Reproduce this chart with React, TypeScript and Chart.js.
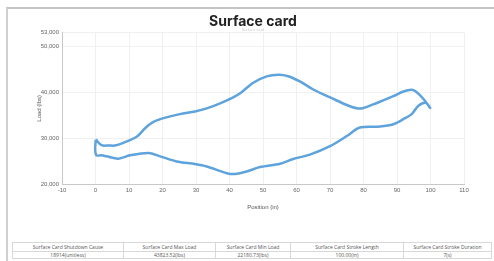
import React, { useEffect, useRef } from "react";
import { Chart, registerables } from "chart.js";

Chart.register(...registerables);

const positions = [
  0.1, 1.8, 4, 5.8, 8.3, 12.3, 14.8, 17.3, 20.3, 25.2, 29.7, 33.2, 37.2, 41.1, 43.6, 47.1, 51.1, 54.6, 57.5, 61,
  65, 71, 75, 78, 80, 84, 88.9, 91.9, 94.4, 95.9, 97.9, 99.9, 98.6, 96.4, 94.4, 91.9, 88.9, 84.9, 78.9, 75,
  70, 64, 59, 55.1, 49.1, 45.1, 41.6, 39.2, 33.2, 29.7, 24.2, 19.3, 15.8, 10.3, 6.8, 3.3, 1.8, 0.3, -0.1, 0.1,
];
const loads = [
  29700, 28450, 28400, 28390, 28980, 30300, 32140, 33530, 34350, 35230, 35820, 36480, 37590, 38900, 40020, 42080, 43470, 43820, 43500, 42360,
  40600, 38540, 37220, 36490, 36560, 37660, 39140, 40150, 40530, 40020, 38540, 36560, 37700, 37060, 35230, 34130, 33020, 32520, 32300, 30450,
  28240, 26400, 25450, 24420, 23690, 22720, 22180, 22360, 23820, 24350, 24920, 26030, 26780, 26250, 25520, 26030, 26250, 26250, 27500, 29700,
];
const yTicks = [20000, 30000, 40000, 50000, 53000];

const tableHeaders = [
  "Surface Card Shutdown Cause",
  "Surface Card Max Load",
  "Surface Card Min Load",
  "Surface Card Stroke Length",
  "Surface Card Stroke Duration",
];
const tableValues = ["18914(unitless)", "43823.52(lbs)", "22180.73(lbs)", "100.00(in)", "7(s)"];
const colWidths = [111, 92, 75, 113, 88];

export default function App() {
  const ref = useRef<HTMLCanvasElement | null>(null);
  useEffect(() => {
    if (!ref.current) return;
    const data = positions.map((x, i) => ({ x, y: loads[i] }));
    const tickFont = { family: "'Liberation Sans', Arial, sans-serif", size: 6 };
    const chart = new Chart(ref.current, {
      type: "line",
      data: {
        datasets: [
          {
            data,
            borderColor: "#5ea3dc",
            backgroundColor: "#5ea3dc",
            borderWidth: 2.5,
            pointRadius: 0,
            tension: 0.3,
            fill: false,
          },
        ],
      },
      options: {
        animation: false,
        responsive: true,
        maintainAspectRatio: false,
        layout: { padding: 0 },
        plugins: {
          legend: { display: false },
          tooltip: { enabled: false },
          title: {
            display: true,
            text: "Surface card",
            color: "#222",
            font: { family: "Inter, sans-serif", size: 14, weight: "bold" },
            padding: { top: 13, bottom: 0 },
          },
          subtitle: {
            display: true,
            text: "Surface card",
            color: "#d0d0d0",
            font: { family: "'Liberation Sans', Arial, sans-serif", size: 4 },
            padding: { top: -2, bottom: 0 },
          },
        },
        scales: {
          x: {
            type: "linear",
            min: -10,
            max: 110,
            ticks: { stepSize: 10, color: "#666", font: tickFont, padding: 3, maxRotation: 0 },
            grid: { color: "#f0f0f0", drawTicks: false },
            border: { color: "#c8c8c8" },
            title: {
              display: true,
              text: "Position (in)",
              color: "#555",
              font: tickFont,
              padding: { top: 0, bottom: 5 },
            },
            afterFit: (scale: any) => {
              scale.height = 32;
              scale.paddingRight = 30;
            },
          },
          y: {
            type: "linear",
            min: 20000,
            max: 53000,
            afterBuildTicks: (scale: any) => {
              scale.ticks = yTicks.map((v) => ({ value: v }));
            },
            ticks: { color: "#666", font: tickFont, padding: 3 },
            grid: { color: "#f0f0f0", drawTicks: false },
            border: { color: "#c8c8c8" },
            title: {
              display: true,
              text: "Load (lbs)",
              color: "#555",
              font: tickFont,
              padding: { top: 24, bottom: 0 },
            },
            afterFit: (scale: any) => {
              scale.width = 50;
            },
          },
        },
      },
    });
    return () => chart.destroy();
  }, []);

  const cell: React.CSSProperties = {
    border: "1px solid #d8d8d8",
    padding: 0,
    textAlign: "center",
    overflow: "hidden",
    whiteSpace: "nowrap",
  };

  return (
    <div style={{ position: "absolute", left: 0, top: 0, width: 494, height: 261, overflow: "hidden", background: "#fff" }}>
      <div
        style={{
          position: "absolute",
          left: 6,
          top: 7,
          width: 520,
          height: 300,
          borderTop: "2px solid #c4c4c4",
          borderLeft: "2px solid #d0d0d0",
        }}
      />
      <div style={{ position: "absolute", left: 12, top: 0, width: 482, height: 216 }}>
        <canvas ref={ref} />
      </div>
      <table
        style={{
          position: "absolute",
          left: 12,
          top: 242,
          borderCollapse: "collapse",
          tableLayout: "fixed",
          fontFamily: "'Open Sans', 'Noto Sans', sans-serif",
          fontSize: 5,
          color: "#555",
        }}
      >
        <colgroup>
          {colWidths.map((w, i) => (
            <col key={i} style={{ width: w }} />
          ))}
        </colgroup>
        <tbody>
          <tr style={{ height: 9 }}>
            {tableHeaders.map((h, i) => (
              <td key={i} style={{ ...cell, lineHeight: "8px" }}>{h}</td>
            ))}
          </tr>
          <tr style={{ height: 7 }}>
            {tableValues.map((v, i) => (
              <td key={i} style={{ ...cell, lineHeight: "6px" }}>{v}</td>
            ))}
          </tr>
        </tbody>
      </table>
    </div>
  );
}
